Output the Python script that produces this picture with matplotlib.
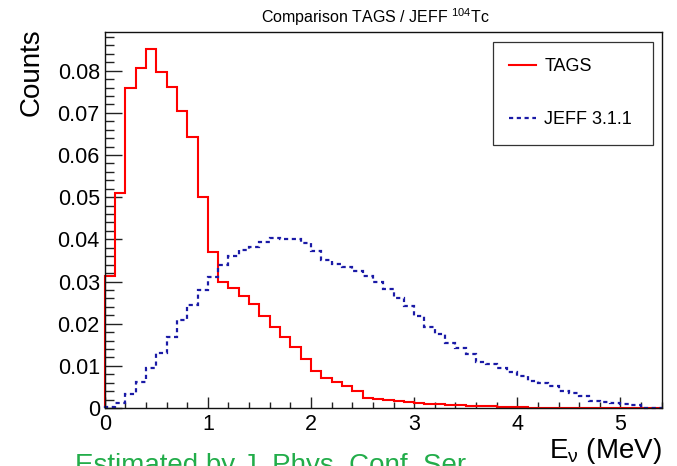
import numpy as np
import matplotlib
matplotlib.use("Agg")
import matplotlib.pyplot as plt
from matplotlib.ticker import MultipleLocator, FuncFormatter

plt.rcParams["font.family"] = ["Liberation Sans", "DejaVu Sans"]
plt.rcParams["mathtext.fontset"] = "custom"
plt.rcParams["mathtext.rm"] = "Liberation Sans"
plt.rcParams["mathtext.it"] = "Liberation Sans:italic"
plt.rcParams["lines.scale_dashes"] = False

# 0.1 MeV bins from 0 to 5.4 MeV
edges = np.round(np.arange(55) * 0.1, 2)

tags = [
    0.0313, 0.0511, 0.0758, 0.0807, 0.0852, 0.0796, 0.0761, 0.0705, 0.0642, 0.0501,
    0.0369, 0.0300, 0.0284, 0.0266, 0.0247, 0.0219, 0.0193, 0.0168, 0.0145, 0.0117,
    0.0088, 0.0071, 0.0062, 0.0053, 0.0040, 0.0024, 0.0021, 0.0018, 0.0017, 0.0014,
    0.0012, 0.0010, 0.0009, 0.0007, 0.0006, 0.0005, 0.0004, 0.0004, 0.0003, 0.0002,
    0.0002, 0.0001, 0.0001, 0.0, 0.0, 0.0, 0.0, 0.0, 0.0, 0.0,
    0.0, 0.0, 0.0, 0.0,
]

jeff = [
    0.0003, 0.0011, 0.0033, 0.0061, 0.0095, 0.0130, 0.0169, 0.0209, 0.0244, 0.0280,
    0.0311, 0.0339, 0.0361, 0.0375, 0.0383, 0.0394, 0.0403, 0.0401, 0.0401, 0.0392,
    0.0372, 0.0351, 0.0342, 0.0335, 0.0326, 0.0313, 0.0299, 0.0282, 0.0260, 0.0242,
    0.0219, 0.0192, 0.0175, 0.0154, 0.0143, 0.0129, 0.0110, 0.0104, 0.0094, 0.0085,
    0.0076, 0.0065, 0.0059, 0.0051, 0.0041, 0.0035, 0.0029, 0.0017, 0.0014, 0.0011,
    0.0009, 0.0007, 0.0, 0.0,
]

fig = plt.figure(figsize=(6.77, 4.66), dpi=100)
ax = fig.add_axes([104.7 / 677, 58 / 466, 557 / 677, 376.5 / 466])

ax.stairs(tags, edges, baseline=0, color="#ff0000", lw=1.5, label="TAGS",
          clip_on=False, zorder=2)
ax.stairs(jeff, edges, baseline=0, color="#1a1aa6", lw=1.6, label="JEFF 3.1.1",
          linestyle=(0, (3.0, 2.6)), clip_on=False, zorder=2)

ax.set_xlim(0, 5.4)
ax.set_ylim(0, 0.0893)

ax.xaxis.set_major_locator(MultipleLocator(1))
ax.xaxis.set_minor_locator(MultipleLocator(0.2))
ax.yaxis.set_major_locator(MultipleLocator(0.01))
ax.yaxis.set_minor_locator(MultipleLocator(0.002))
ax.xaxis.set_major_formatter(FuncFormatter(lambda v, p: f"{v:.0f}"))
ax.yaxis.set_major_formatter(FuncFormatter(lambda v, p: "0" if abs(v) < 1e-9 else f"{v:.2f}"))

ax.tick_params(axis="both", which="both", direction="in", top=False, right=False,
               width=1, color="#222222", labelsize=15.5)
ax.tick_params(axis="y", which="major", length=12.5, pad=3.5)
ax.tick_params(axis="y", which="minor", length=6.2)
ax.tick_params(axis="x", which="major", length=8.2, pad=4.5)
ax.tick_params(axis="x", which="minor", length=4.5)
for sp in ax.spines.values():
    sp.set_linewidth(1.0)
    sp.set_color("#111111")

# legend box spans the upper right corner of the frame
leg = ax.legend(loc="upper left", bbox_to_anchor=(0.697, 0.709, 0.287, 0.263),
                mode="expand", fontsize=13, handlelength=1.5, handletextpad=0.45,
                labelspacing=2.0, borderpad=0.9, borderaxespad=0, fancybox=False,
                framealpha=1, edgecolor="#333333")
leg.get_frame().set_linewidth(0.9)

fig.text(0.554, 1 - 17 / 466, "Comparison TAGS / JEFF $^{104}$Tc",
         ha="center", va="center", fontsize=11.5)
fig.text(32 / 677, 1 - 28 / 466, "Counts", rotation=90, ha="center", va="top",
         fontsize=20)
fig.text(662 / 677, 1 - 436 / 466, "E$_{\\mathregular{ν}}$ (MeV)", ha="right",
         va="top", fontsize=20)

# slide caption running under the plot, mostly below the bottom edge
fig.text(75 / 677, 1 - 453 / 466, "Estimated by J. Phys. Conf. Ser.",
         ha="left", va="top", fontsize=20, color="#22ad4a", zorder=0)

fig.savefig("out.png", dpi=100)
